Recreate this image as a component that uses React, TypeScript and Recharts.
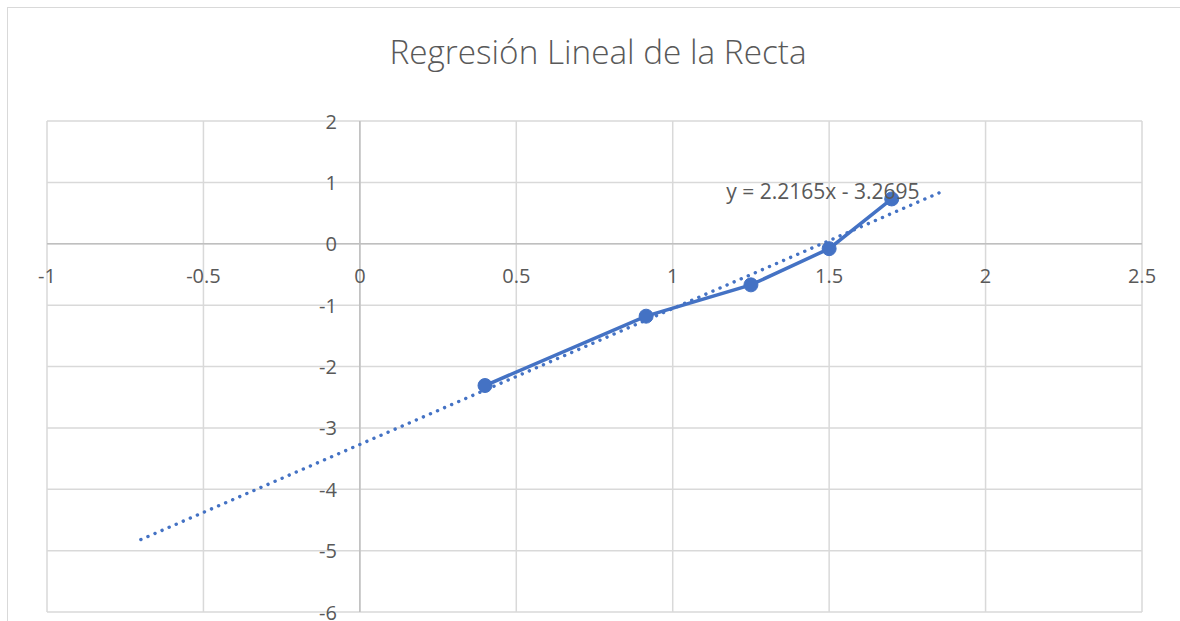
import React from 'react';
import { ComposedChart, Line, XAxis, YAxis, CartesianGrid, ReferenceLine, ReferenceDot } from 'recharts';

const xTickValues = [-1, -0.5, 0, 0.5, 1, 1.5, 2, 2.5];
const yTickValues = [-6, -5, -4, -3, -2, -1, 0, 1, 2];
const pointX = [0.40, 0.915, 1.25, 1.50, 1.70];
const pointY = [-2.31, -1.18, -0.67, -0.08, 0.73];
const trendX = [-0.70, 1.87];
const trendY = [-4.82, 0.87];
const equationLabel = 'y = 2.2165x - 3.2695';
const title = 'Regresión Lineal de la Recta';

const seriesData = pointX.map((x, i) => ({ x, y: pointY[i] }));
const trendData = trendX.map((x, i) => ({ x, y: trendY[i] }));

const W = 1172;
const H = 613;
const AX = 1;
const M = { top: 113, right: 38, bottom: 9 - AX, left: 39 - AX };
const X_MIN = -1, X_MAX = 2.5, Y_MIN = -6, Y_MAX = 2;
const plotLeft = 39;
const plotTop = 113;
const plotW = W - 39 - 38;
const plotH = H - 113 - 9;
const xZeroPx = plotLeft + ((0 - X_MIN) / (X_MAX - X_MIN)) * plotW;
const yZeroPx = plotTop + ((Y_MAX - 0) / (Y_MAX - Y_MIN)) * plotH;

const BLUE = '#4472C4';
const TEXT = '#595959';
const FONT = 'Open Sans, sans-serif';
const TICK_SIZE = 20;

const renderXTick = (props: any) => {
  const { x, payload, index } = props;
  return (
    <text key={`xt-${index}`} x={x} y={yZeroPx + 32} textAnchor="middle" dominantBaseline="central" fill={TEXT} fontSize={TICK_SIZE} fontFamily={FONT}>
      {String(payload.value)}
    </text>
  );
};

const renderYTick = (props: any) => {
  const { y, payload, index } = props;
  return (
    <text key={`yt-${index}`} x={xZeroPx - 23} y={y} textAnchor="end" dominantBaseline="central" fill={TEXT} fontSize={TICK_SIZE} fontFamily={FONT}>
      {String(payload.value)}
    </text>
  );
};

export default function App() {
  return (
    <div style={{ position: 'absolute', left: 7, top: 7, width: W, height: H, borderTop: '1px solid #d9d9d9', borderLeft: '1px solid #d9d9d9', background: '#fff' }}>
      <div style={{ position: 'absolute', left: 0, top: 20, width: 1180, textAlign: 'center', fontFamily: FONT, fontSize: 33.3, color: TEXT, fontWeight: 300, lineHeight: '46px' }}>
        {title}
      </div>
      <ComposedChart width={W} height={H} margin={M}>
        <CartesianGrid stroke="#d9d9d9" strokeWidth={1.5} horizontalValues={yTickValues} verticalValues={xTickValues} />
        <XAxis type="number" dataKey="x" domain={[X_MIN, X_MAX]} ticks={xTickValues} allowDataOverflow axisLine={false} tickLine={false} height={AX} tick={renderXTick} interval={0} />
        <YAxis type="number" dataKey="y" domain={[Y_MIN, Y_MAX]} ticks={yTickValues} allowDataOverflow axisLine={false} tickLine={false} width={AX} tick={renderYTick} interval={0} />
        <ReferenceLine x={0} stroke="#bfbfbf" strokeWidth={1.5} />
        <ReferenceLine y={0} stroke="#bfbfbf" strokeWidth={1.5} />
        <Line data={trendData} dataKey="y" type="linear" stroke={BLUE} strokeWidth={3.4} strokeDasharray="0.1 7.6" strokeLinecap="round" dot={false} isAnimationActive={false} />
        <Line data={seriesData} dataKey="y" type="linear" stroke={BLUE} strokeWidth={3.5} dot={{ r: 7, fill: BLUE, stroke: BLUE, strokeWidth: 1 }} isAnimationActive={false} />
        <ReferenceDot x={1.48} y={0.85} r={0} fill="none" stroke="none" label={{ value: equationLabel, position: 'center', fill: TEXT, fontSize: 21, fontFamily: FONT }} />
      </ComposedChart>
    </div>
  );
}
